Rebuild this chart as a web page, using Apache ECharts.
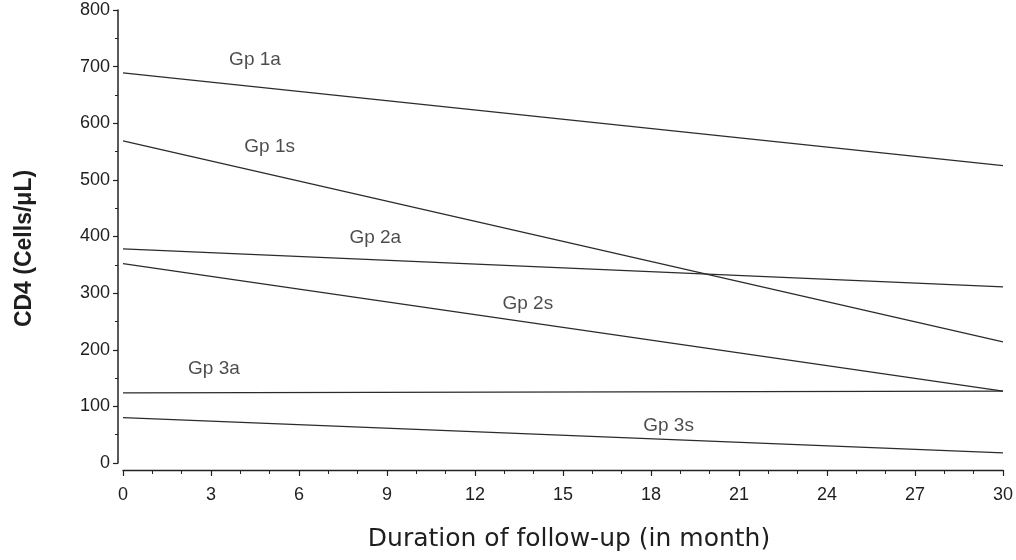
<!DOCTYPE html>
<html>
<head>
<meta charset="utf-8">
<script src="https://cdn.jsdelivr.net/npm/echarts@6/dist/echarts.min.js"></script>
<style>html,body{margin:0;padding:0;background:#fff}#c{width:1016px;height:560px}</style>
</head>
<body>
<div id="c"></div>
<script>
// Data (months 0 and 30, CD4 cells/µL)
const months = [0, 30];
const gp1a = [689, 525];
const gp1s = [569, 214];
const gp2a = [378, 311];
const gp2s = [352, 127];
const gp3a = [124, 127];
const gp3s = [80, 18];
const seriesNames = ['Gp 1a', 'Gp 1s', 'Gp 2a', 'Gp 2s', 'Gp 3a', 'Gp 3s'];
// Text label anchor positions (in data units)
const labelX = [4.5, 5.0, 8.6, 13.8, 3.1, 18.6];
const labelY = [712, 558, 397, 281, 166, 65];
const xTicks = [0, 3, 6, 9, 12, 15, 18, 21, 24, 27, 30];
const yTicks = [0, 100, 200, 300, 400, 500, 600, 700, 800];

const allValues = [gp1a, gp1s, gp2a, gp2s, gp3a, gp3s];
const lineColor = '#2b2b2b';
const textColor = '#1e1e1e';
const sans = "'Liberation Sans', Arial, Helvetica, sans-serif";

const lineSeries = allValues.map((vals, i) => ({
  name: seriesNames[i],
  type: 'line',
  symbol: 'none',
  silent: true,
  data: months.map((m, j) => [m, vals[j]]),
  lineStyle: { color: lineColor, width: 1.3 },
  z: 2
}));

const labelSeries = {
  type: 'scatter',
  symbolSize: 0,
  silent: true,
  data: seriesNames.map((n, i) => ({ name: n, value: [labelX[i], labelY[i]] })),
  label: {
    show: true,
    position: 'inside',
    formatter: '{b}',
    fontFamily: sans,
    fontSize: 19,
    color: textColor
  },
  z: 3
};

const chart = echarts.init(document.getElementById('c'), null, { renderer: 'canvas' });
chart.setOption({
  animation: false,
  backgroundColor: '#fff',
  grid: { left: 123, right: 11, top: 10, bottom: 97, containLabel: false },
  xAxis: {
    type: 'value',
    min: xTicks[0],
    max: xTicks[xTicks.length - 1],
    interval: 3,
    offset: 7,
    name: 'Duration of follow-up (in month)',
    nameLocation: 'middle',
    nameGap: 57,
    nameTextStyle: { fontFamily: "'DejaVu Sans', sans-serif", fontSize: 25, color: textColor, padding: [0, 0, 0, 12] },
    axisLine: { show: true, onZero: false, lineStyle: { color: '#222', width: 1.3 } },
    axisTick: { show: true, length: 6, lineStyle: { color: '#222', width: 1.2 } },
    minorTick: { show: true, splitNumber: 3, length: 4, lineStyle: { color: '#222', width: 1 } },
    axisLabel: { margin: 16, fontFamily: sans, fontSize: 18, color: textColor },
    splitLine: { show: false }
  },
  yAxis: {
    type: 'value',
    min: yTicks[0],
    max: yTicks[yTicks.length - 1],
    interval: 100,
    offset: 5,
    name: 'CD4 (Cells/\u03bcL)',
    nameLocation: 'middle',
    nameGap: 82,
    nameTextStyle: { fontFamily: sans, fontSize: 23, fontWeight: 'bold', color: textColor, padding: [0, 24, 0, 0] },
    axisLine: { show: true, onZero: false, lineStyle: { color: '#222', width: 1.5 } },
    axisTick: { show: true, length: 5, lineStyle: { color: '#222', width: 1.2 } },
    minorTick: { show: true, splitNumber: 2, length: 3, lineStyle: { color: '#222', width: 1 } },
    axisLabel: { margin: 8, fontFamily: sans, fontSize: 18, color: textColor },
    splitLine: { show: false }
  },
  series: [...lineSeries, labelSeries]
});
</script>
</body>
</html>
